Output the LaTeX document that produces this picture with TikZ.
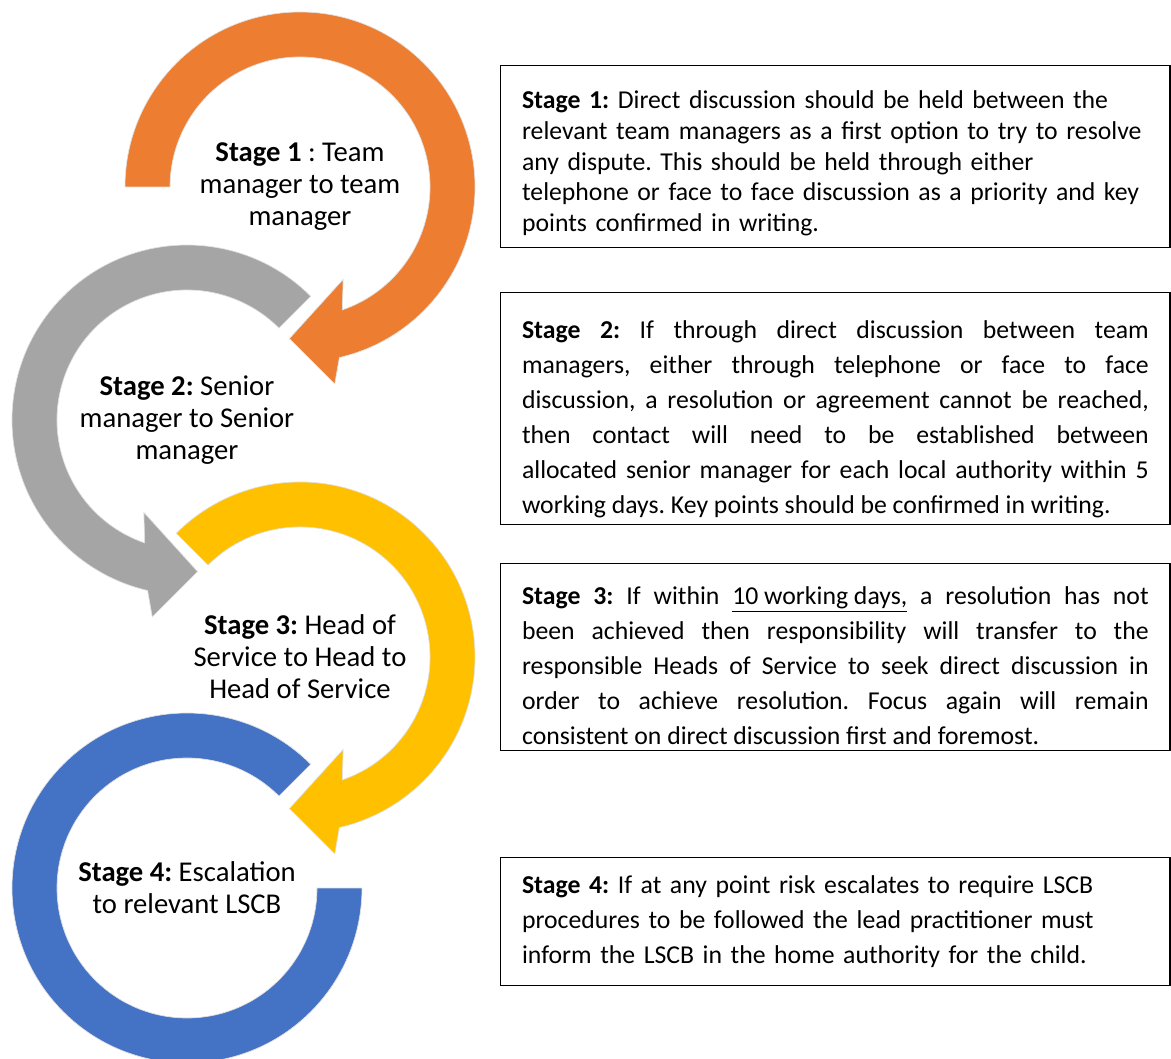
\documentclass[tikz,border=0pt]{standalone}
\usepackage{fontspec}
\setmainfont{Carlito}
\usetikzlibrary{calc}
\definecolor{stageorange}{HTML}{ED7D31}
\definecolor{stagegray}{HTML}{A5A5A5}
\definecolor{stageyellow}{HTML}{FFC000}
\definecolor{stageblue}{HTML}{4472C4}
\hyphenpenalty=10000

\begin{document}
\frenchspacing
\begin{tikzpicture}[x=0.75pt,y=0.75pt,
  ring/.style={draw=black!12,line width=0.5pt},
  ringtext/.style={align=center,font=\fontsize{21.5}{24}\selectfont},
  stagebox/.style={draw,line width=1.1pt,anchor=north west,text width=470pt,
    inner xsep=16pt,inner ysep=2pt,font=\fontsize{19.3}{26.3}\selectfont},
  toppad/.style={execute at begin node={\rule{0pt}{#1}}}]
\useasboundingbox (0,0) rectangle (1171,-1059);
\coordinate (c1) at (300,-187);
\coordinate (c2) at (187,-420);
\coordinate (c3) at (300,-657);
\coordinate (c4) at (187,-888);

\fill[stageorange,ring] ($(c1)+(180:175)$) arc[start angle=180,end angle=-77,radius=175]
  -- ($(c1)+(-80:200)$) -- ($(c1)+(-94:152)$) -- ($(c1)+(-65:102)$)
  -- ($(c1)+(-71:130)$) arc[start angle=-71,end angle=180,radius=130] -- cycle;
\fill[stagegray,ring] ($(c2)+(45:175)$) arc[start angle=45,end angle=257,radius=175]
  -- ($(c2)+(260:200)$) -- ($(c2)+(274:152)$) -- ($(c2)+(245:102)$)
  -- ($(c2)+(251:130)$) arc[start angle=251,end angle=45,radius=130] -- cycle;
\fill[stageyellow,ring] ($(c3)+(135:175)$) arc[start angle=135,end angle=-77,radius=175]
  -- ($(c3)+(-80:200)$) -- ($(c3)+(-94:152)$) -- ($(c3)+(-65:102)$)
  -- ($(c3)+(-71:130)$) arc[start angle=-71,end angle=135,radius=130] -- cycle;
\fill[stageblue,ring] ($(c4)+(45:175)$) arc[start angle=45,end angle=360,radius=175]
  -- ($(c4)+(0:130)$) arc[start angle=360,end angle=45,radius=130] -- cycle;

\node[ringtext] (stage1) at (c1) {\textbf{Stage 1} : Team\\manager to team\\manager};
\node[ringtext] (stage2) at (c2) {\textbf{Stage 2:} Senior\\manager to Senior\\manager};
\node[ringtext] (stage3) at (c3) {\textbf{Stage 3:} Head of\\Service to Head to\\Head of Service};
\node[ringtext] (stage4) at (c4) {\textbf{Stage 4:} Escalation\\to relevant LSCB};

\node[stagebox,align=left,minimum height=136.5pt,toppad=23.5pt,
  font=\fontsize{19.3}{23}\selectfont] (box1) at (500,-65)
  {\textbf{Stage 1:} Direct discussion should be held between the\\
   relevant team managers as a first option to try to resolve\\
   any dispute. This should be held through either\\
   telephone or face to face discussion as a priority and key\\
   points confirmed in writing.};
\node[stagebox,align=justify,minimum height=174pt,toppad=29.5pt] (box2) at (500,-292)
  {\textbf{Stage 2:} If through direct discussion between team\linebreak
   managers, either through telephone or face to face\linebreak
   discussion, a resolution or agreement cannot be reached,\linebreak
   then contact will need to be established between\linebreak
   allocated senior manager for each local authority within 5\linebreak
   working days. Key points should be confirmed in writing.};
\node[stagebox,align=justify,minimum height=140pt,toppad=26.5pt] (box3) at (500,-563)
  {\textbf{Stage 3:} If within \underline{10 working days,} a resolution has not\linebreak
   been achieved then responsibility will transfer to the\linebreak
   responsible Heads of Service to seek direct discussion in\linebreak
   order to achieve resolution. Focus again will remain\linebreak
   consistent on direct discussion first and foremost.};
\node[stagebox,align=left,minimum height=96pt] (box4) at (500,-857)
  {\textbf{Stage 4:} If at any point risk escalates to require LSCB\\
   procedures to be followed the lead practitioner must\\
   inform the LSCB in the home authority for the child.};
\end{tikzpicture}
\end{document}
